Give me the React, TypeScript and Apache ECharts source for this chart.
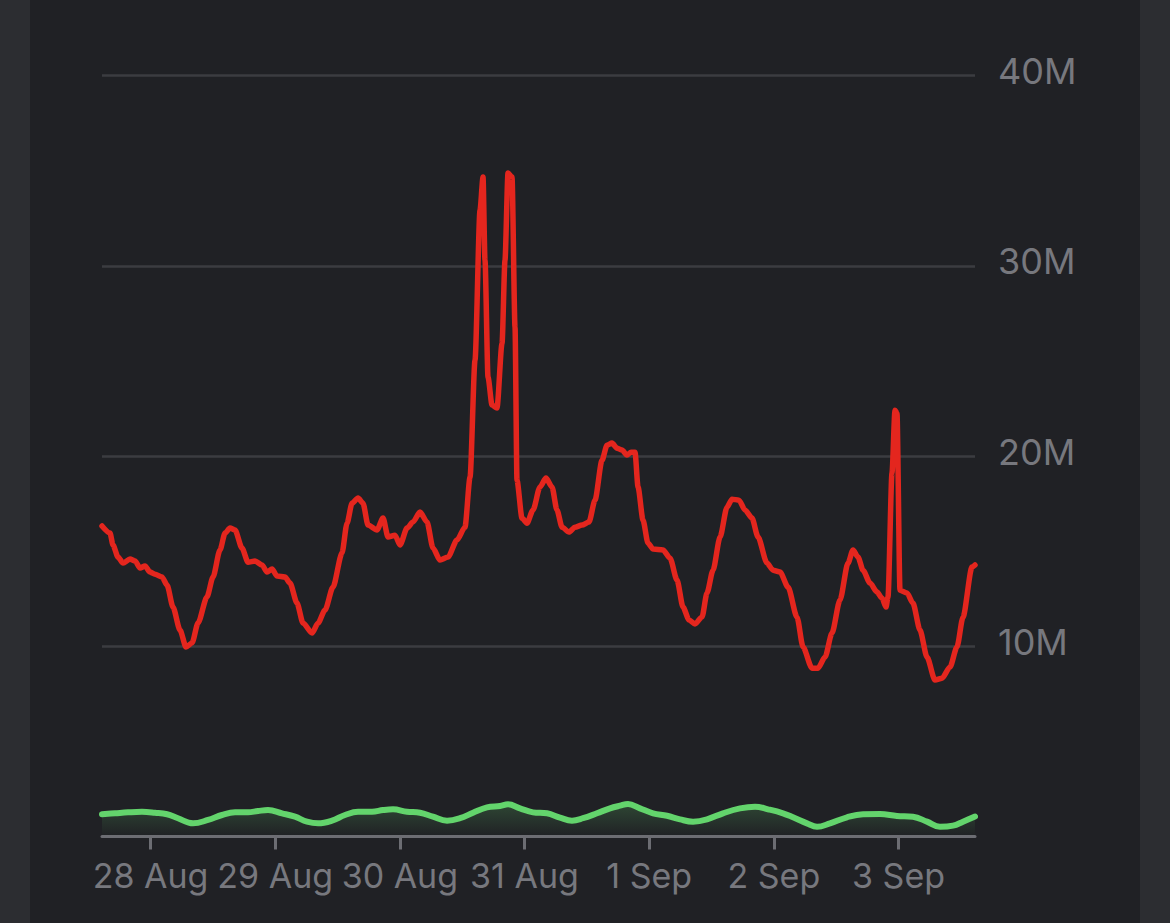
import React, { useEffect, useRef } from "react";
import * as echarts from "echarts";

// x values: hours since 27 Aug 2024 00:00 (UTC); y values in millions
const redHours = [
  14.66, 16.2, 16.78, 17.74, 18.71, 20.05, 21.02, 21.98, 22.94, 23.9, 24.87, 26.21, 27.18, 28.33, 29.68,
  30.83, 31.99, 33.14, 34.87, 36.03, 37.38, 38.34, 39.3, 40.27, 41.61, 42.77, 44.12, 45.46, 46.43, 47.39,
  48.35, 49.89, 50.85, 52.2, 53.36, 55.09, 56.25, 57.59, 59.13, 60.86, 61.83, 62.79, 63.95, 64.91, 65.87,
  67.6, 68.76, 69.72, 71.07, 72.03, 73.38, 74.53, 75.88, 77.23, 78.38, 79.73, 81.27, 83.0, 84.54, 85.51,
  86.47, 87.43, 88.01, 88.39, 88.97, 89.74, 90.7, 91.67, 92.24, 92.82, 93.59, 94.17, 94.55, 95.51, 96.47,
  97.63, 98.98, 100.13, 101.29, 102.25, 103.22, 104.56, 105.72, 107.07, 108.41, 109.57, 110.92, 111.88,
  112.84, 113.8, 114.77, 115.73, 116.5, 117.27, 117.85, 118.81, 119.77, 120.74, 122.66, 124.01, 125.36,
  126.51, 127.67, 128.82, 130.17, 131.13, 132.29, 133.64, 134.98, 135.94, 137.29, 138.45, 139.79, 140.95,
  142.68, 143.84, 145.19, 146.73, 148.46, 149.61, 151.34, 152.5, 153.85, 155.19, 156.73, 158.27, 159.24,
  160.2, 161.16, 162.51, 163.86, 164.82, 165.59, 165.97, 166.74, 167.32, 167.7, 168.28, 169.63, 170.78,
  172.13, 173.48, 175.02, 176.37, 177.91, 179.25, 180.41, 182.14, 182.72,
];
const redValues = [
  16.32, 15.95, 15.32, 14.69, 14.37, 14.58, 14.48, 14.11, 14.22, 13.9, 13.79, 13.64, 13.22, 12.06, 10.85,
  9.96, 10.17, 11.22, 12.59, 13.64, 15.06, 15.95, 16.21, 16.11, 15.16, 14.42, 14.48, 14.27, 13.9, 14.06,
  13.69, 13.64, 13.32, 12.27, 11.22, 10.69, 11.22, 11.9, 13.11, 14.9, 16.47, 17.52, 17.79, 17.52, 16.37,
  16.11, 16.74, 15.74, 15.84, 15.32, 16.21, 16.53, 17.05, 16.53, 15.16, 14.53, 14.69, 15.58, 16.26, 18.89,
  25.04, 32.92, 34.66, 30.29, 24.15, 22.68, 22.52, 25.93, 30.29, 34.87, 34.66, 26.77, 18.73, 16.74, 16.47,
  17.16, 18.37, 18.84, 18.37, 17.16, 16.26, 16.0, 16.26, 16.37, 16.53, 17.68, 19.78, 20.57,
  20.68, 20.41, 20.31, 20.05, 20.2, 20.2, 18.37, 16.63, 15.42, 15.11, 15.06, 14.63, 13.48,
  12.06, 11.38, 11.17, 11.54, 12.8, 14.0, 15.74, 17.31, 17.73, 17.68, 17.16, 16.74, 15.74,
  14.37, 14.0, 13.9, 13.11, 11.53, 9.96, 8.85, 8.85, 9.43, 10.69, 12.43, 14.37, 15.06,
  14.69, 14.0, 13.32, 12.85, 12.53, 12.06, 12.59, 19.1, 22.41, 22.25, 12.95, 12.8, 12.27,
  10.85, 9.43, 8.22, 8.32, 8.91, 9.96, 11.53, 14.16, 14.27,
];

const greenHours = [
  14.66, 17.17, 19.67, 22.36, 24.87, 27.18, 29.29, 32.18, 35.07, 37.76, 40.27, 42.77, 44.69, 46.62, 49.31,
  51.82, 54.13, 56.25, 58.94, 61.44, 63.95, 66.64, 68.76, 70.68, 73.38, 75.88, 78.38, 81.08, 83.58, 86.09,
  88.78, 91.28, 92.82, 95.13, 97.63, 100.33, 102.83, 105.14, 107.26, 109.95, 112.46, 114.38, 115.92, 118.23,
  120.74, 123.43, 125.94, 128.44, 131.13, 134.21, 137.48, 140.37, 142.87, 145.76, 147.69, 150.38, 152.31,
  154.81, 158.08, 161.16, 164.43, 167.7, 170.78, 173.48, 175.98, 178.48, 180.41, 182.72,
];
const greenValues = [
  1.17, 1.22, 1.27, 1.3, 1.25, 1.17, 0.96, 0.69, 0.87, 1.13, 1.27, 1.27, 1.34, 1.39, 1.22,
  1.04, 0.78, 0.69, 0.83, 1.13, 1.3, 1.3, 1.39, 1.43, 1.3, 1.25, 1.04, 0.83, 0.96, 1.25,
  1.53, 1.6, 1.69, 1.48, 1.27, 1.22, 0.99, 0.83, 0.96, 1.22, 1.48, 1.62, 1.71, 1.48,
  1.22, 1.09, 0.9, 0.78, 0.9, 1.22, 1.48, 1.57, 1.43, 1.22, 1.01, 0.69, 0.51,
  0.69, 1.01, 1.17, 1.18, 1.08, 1.04, 0.78, 0.51, 0.57, 0.78, 1.05,
];

// day ticks (hours since 27 Aug 00:00)
const dayTickHours = [24, 48, 72, 96, 120, 144, 168];
const yTicks = [0, 10, 20, 30, 40];
const monthNames = ["Jan", "Feb", "Mar", "Apr", "May", "Jun", "Jul", "Aug", "Sep", "Oct", "Nov", "Dec"];
const EPOCH = Date.UTC(2024, 7, 27);

function hourLabel(h: number): string {
  const d = new Date(EPOCH + Math.round(h) * 3600 * 1000);
  return `${d.getUTCDate()} ${monthNames[d.getUTCMonth()]}`;
}

export default function App() {
  const ref = useRef<HTMLDivElement>(null);

  useEffect(() => {
    if (!ref.current) return;
    const chart = echarts.init(ref.current, undefined, { renderer: "svg" });
    const red = redHours.map((h, i) => [h, redValues[i]]);
    const green = greenHours.map((h, i) => [h, greenValues[i]]);
    const labelColor = "#77787e";
    const font = "Inter, 'Noto Sans', sans-serif";

    chart.setOption({
      animation: false,
      backgroundColor: "#202125",
      grid: { left: 72, right: 165, top: 75.5, bottom: 86.5, containLabel: false },
      xAxis: {
        type: "value",
        min: redHours[0],
        max: redHours[redHours.length - 1],
        splitLine: { show: false },
        axisLine: { show: true, lineStyle: { color: "#6c6d73", width: 3 } },
        axisTick: {
          show: true,
          length: 13,
          customValues: dayTickHours,
          lineStyle: { color: "#6c6d73", width: 3 },
        },
        axisLabel: {
          customValues: dayTickHours,
          formatter: (v: number) => hourLabel(v),
          color: labelColor,
          fontSize: 34,
          fontFamily: font,
          margin: 22,
        },
      },
      yAxis: {
        type: "value",
        position: "right",
        min: yTicks[0],
        max: yTicks[yTicks.length - 1],
        interval: 10,
        axisLine: { show: false },
        axisTick: { show: false },
        splitLine: {
          show: true,
          showMinLine: false,
          lineStyle: { color: "#3b3c41", width: 2.5 },
        },
        axisLabel: {
          formatter: (v: number) => (v === 0 ? "" : `{t|${v}M}`),
          margin: 23,
          rich: {
            t: {
              color: labelColor,
              fontSize: 36,
              fontFamily: font,
              padding: [0, 0, 9, 0],
            },
          },
        },
      },
      series: [
        {
          type: "line",
          data: green,
          smooth: 0.4,
          symbol: "none",
          lineStyle: { color: "#63d46c", width: 6, cap: "round", join: "round" },
          areaStyle: {
            color: new echarts.graphic.LinearGradient(0, 0, 0, 1, [
              { offset: 0, color: "rgba(98,210,107,0.30)" },
              { offset: 1, color: "rgba(98,210,107,0)" },
            ]),
          },
          z: 2,
        },
        {
          type: "line",
          data: red,
          smooth: 0.25,
          smoothMonotone: "x",
          symbol: "none",
          lineStyle: { color: "#e4261e", width: 5.5, cap: "round", join: "round" },
          z: 3,
        },
      ],
    });
    return () => chart.dispose();
  }, []);

  return (
    <div
      style={{
        position: "fixed",
        left: 0,
        top: 0,
        width: 1170,
        height: 923,
        background: "#2c2d31",
      }}
    >
      <div
        ref={ref}
        style={{ position: "absolute", left: 30, top: 0, width: 1110, height: 923 }}
      />
    </div>
  );
}
